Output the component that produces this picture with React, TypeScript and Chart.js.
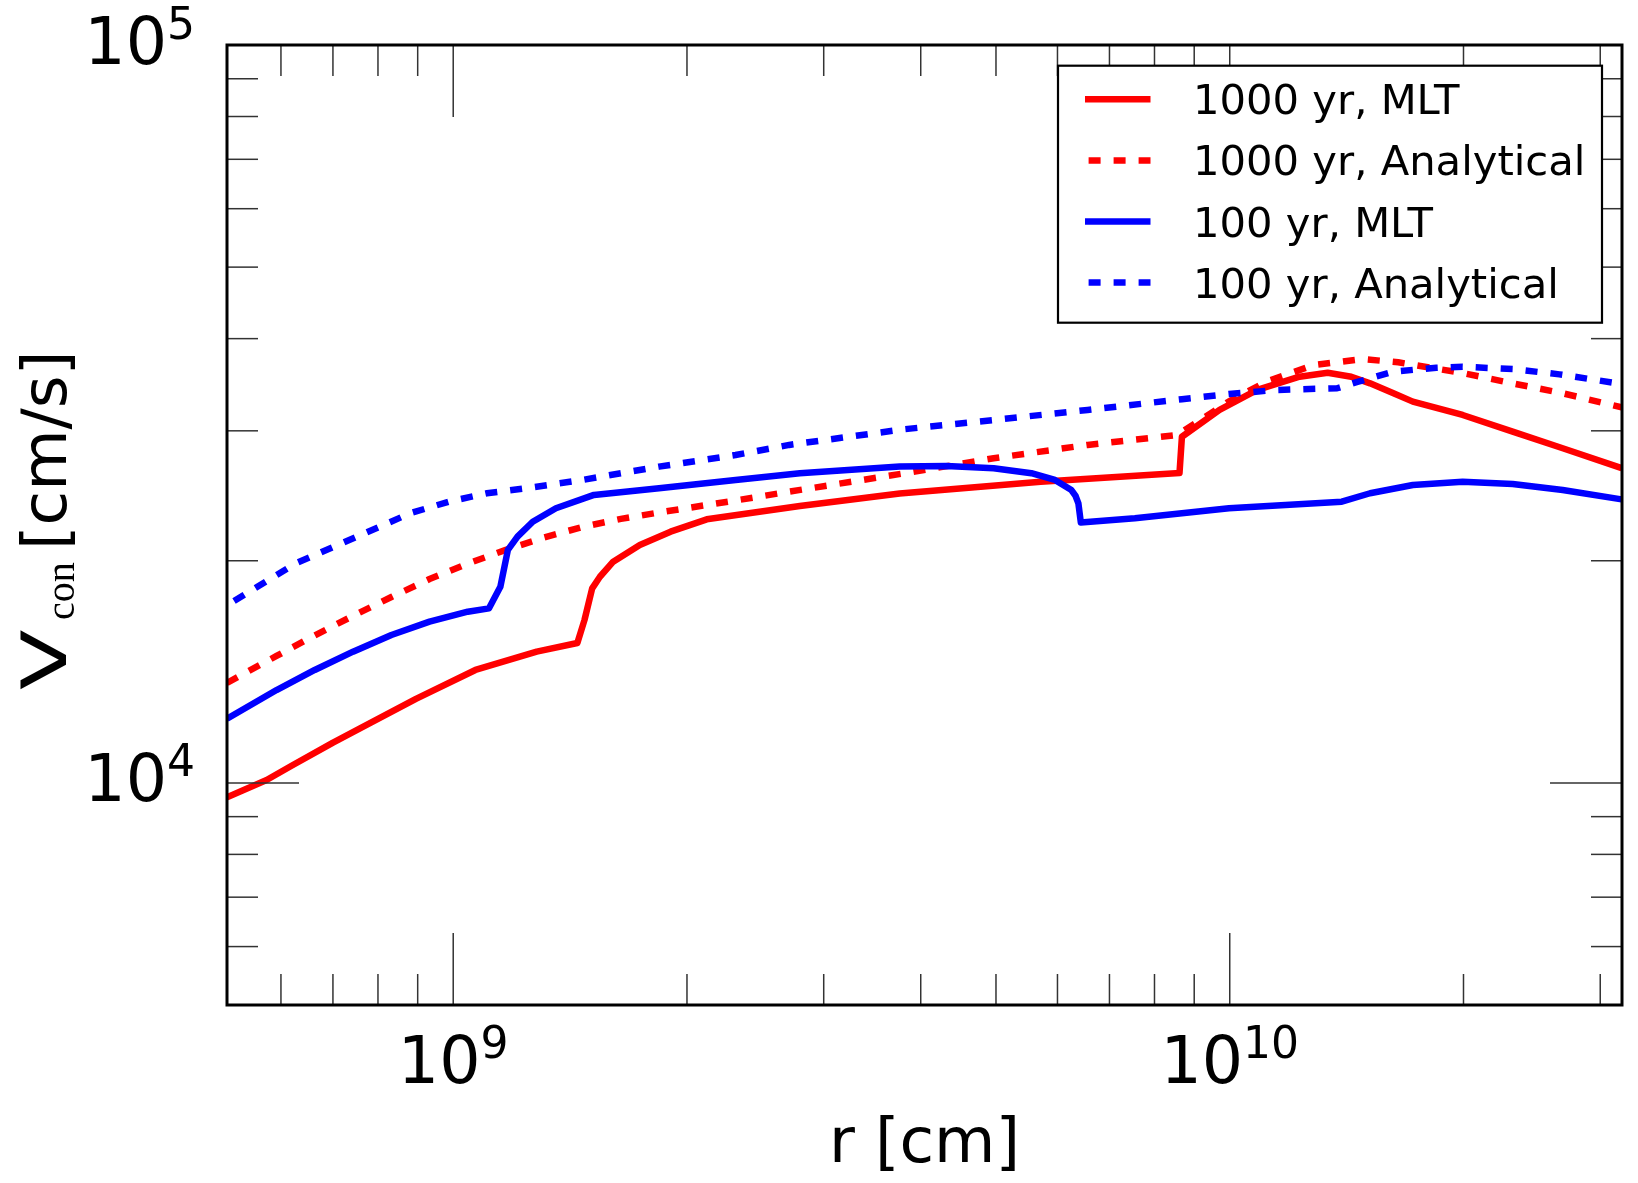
import React, { useEffect, useRef } from 'react';
import { Chart, registerables } from 'chart.js';

Chart.register(...registerables);

// Radius r [cm] and convective velocity V_con [cm/s] for each run
const r1000MLT = [5.113e8, 5.75e8, 6.2e8, 7.002e8, 7.585e8, 8.954e8, 1.068e9, 1.281e9, 1.445e9, 1.476e9, 1.51e9, 1.545e9, 1.607e9, 1.739e9, 1.905e9, 2.121e9, 2.795e9, 3.758e9, 5.708e9, 8.616e9, 8.678e9, 9.703e9, 1.085e10, 1.23e10, 1.337e10, 1.434e10, 1.516e10, 1.625e10, 1.721e10, 1.995e10, 2.314e10, 2.684e10, 3.197e10];
const v1000MLT = [9561, 10090, 10558, 11341, 11850, 12996, 14223, 15060, 15474, 16630, 18350, 19025, 19940, 21010, 21900, 22760, 23730, 24670, 25600, 26300, 29450, 32020, 34080, 35520, 35960, 35520, 34790, 33730, 32860, 31520, 29920, 28410, 26700];

const r1000Ana = [5.113e8, 5.411e8, 5.922e8, 6.632e8, 7.43e8, 8.325e8, 9.322e8, 1.044e9, 1.169e9, 1.31e9, 1.468e9, 1.644e9, 1.84e9, 2.062e9, 2.31e9, 2.708e9, 3.811e9, 4.966e9, 6.561e9, 8.556e9, 9.171e9, 9.965e9, 1.115e10, 1.282e10, 1.482e10, 1.648e10, 1.995e10, 2.314e10, 2.684e10, 3.197e10];
const v1000Ana = [13660, 14114, 14859, 15842, 16840, 17860, 18890, 19826, 20690, 21510, 22230, 22790, 23250, 23690, 24140, 24810, 26280, 27540, 28710, 29610, 31030, 32860, 34970, 36830, 37530, 37150, 35930, 34790, 33730, 32280];

const r100MLT = [5.113e8, 5.922e8, 6.632e8, 7.43e8, 8.325e8, 9.322e8, 1.044e9, 1.112e9, 1.15e9, 1.176e9, 1.21e9, 1.266e9, 1.356e9, 1.518e9, 1.841e9, 2.31e9, 2.795e9, 3.758e9, 4.32e9, 4.966e9, 5.553e9, 5.955e9, 6.253e9, 6.331e9, 6.384e9, 6.43e9, 7.548e9, 9.977e9, 1.394e10, 1.516e10, 1.721e10, 1.995e10, 2.314e10, 2.684e10, 3.197e10];
const v100MLT = [12215, 13360, 14223, 15060, 15865, 16540, 17060, 17240, 18440, 20690, 21560, 22590, 23560, 24560, 25070, 25740, 26280, 26830, 26890, 26690, 26280, 25740, 24940, 24480, 23920, 22540, 22840, 23560, 24050, 24690, 25330, 25600, 25410, 24940, 24220];

const r100Ana = [5.221e8, 5.595e8, 6.267e8, 7.021e8, 7.864e8, 8.808e8, 9.867e8, 1.105e9, 1.238e9, 1.468e9, 1.841e9, 2.31e9, 2.708e9, 3.811e9, 4.966e9, 6.561e9, 8.678e9, 9.977e9, 1.147e10, 1.375e10, 1.464e10, 1.625e10, 1.845e10, 1.995e10, 2.314e10, 2.658e10, 3.197e10];
const v100Ana = [17640, 18440, 19840, 20900, 22020, 23200, 24050, 24690, 25070, 25740, 26830, 27820, 28710, 30150, 31030, 32020, 33110, 33650, 34080, 34260, 34970, 36080, 36530, 36640, 36380, 35780, 34720];

const seriesLabels = ['1000 yr, MLT', '1000 yr, Analytical', '100 yr, MLT', '100 yr, Analytical'];
const seriesColors = ['#ff0000', '#ff0000', '#0000ff', '#0000ff'];
const seriesDashed = [false, true, false, true];
const seriesR = [r1000MLT, r1000Ana, r100MLT, r100Ana];
const seriesV = [v1000MLT, v1000Ana, v100MLT, v100Ana];

// Axis limits and ticks
const xLimits = [5.113e8, 3.2e10];
const yLimits = [5e3, 1e5];
const xMajorTicks = [1e9, 1e10];
const xMajorExps = ['9', '10'];
const xMinorTicks = [6e8, 7e8, 8e8, 9e8, 2e9, 3e9, 4e9, 5e9, 6e9, 7e9, 8e9, 9e9, 2e10, 3e10];
const yMajorTicks = [1e4, 1e5];
const yMajorExps = ['4', '5'];
const yMinorTicks = [6e3, 7e3, 8e3, 9e3, 2e4, 3e4, 4e4, 5e4, 6e4, 7e4, 8e4, 9e4];

const SANS = '"DejaVu Sans"';
const LINE_W = 6.5;
const DASH = [12, 13];

function drawPower(ctx: CanvasRenderingContext2D, base: string, exp: string, x: number, baseline: number, align: 'center' | 'right') {
  ctx.font = `65px ${SANS}`;
  const wb = ctx.measureText(base).width;
  ctx.font = `44px ${SANS}`;
  const we = ctx.measureText(exp).width;
  const total = wb + we;
  const left = align === 'center' ? x - total / 2 : x - total;
  ctx.textAlign = 'left';
  ctx.textBaseline = 'alphabetic';
  ctx.font = `65px ${SANS}`;
  ctx.fillText(base, left, baseline);
  ctx.font = `44px ${SANS}`;
  ctx.fillText(exp, left + wb, baseline - 25);
}

const decorPlugin = {
  id: 'decor',
  afterDatasetsDraw(chart: any) {
    const { ctx, chartArea: a, scales } = chart;
    const xs = scales.x;
    const ys = scales.y;
    ctx.save();
    ctx.strokeStyle = '#333';
    ctx.lineWidth = 1.5;
    const seg = (x1: number, y1: number, x2: number, y2: number) => {
      ctx.beginPath();
      ctx.moveTo(x1, y1);
      ctx.lineTo(x2, y2);
      ctx.stroke();
    };
    const xTicks = (vals: number[], len: number) => {
      for (const v of vals) {
        const px = xs.getPixelForValue(v);
        seg(px, a.bottom, px, a.bottom - len);
        seg(px, a.top, px, a.top + len);
      }
    };
    const yTicks = (vals: number[], len: number) => {
      for (const v of vals) {
        const py = ys.getPixelForValue(v);
        seg(a.left, py, a.left + len, py);
        seg(a.right, py, a.right - len, py);
      }
    };
    xTicks(xMinorTicks, 31);
    xTicks(xMajorTicks, 72);
    yTicks(yMinorTicks, 31);
    yTicks(yMajorTicks, 72);
    ctx.strokeStyle = '#000';
    ctx.lineWidth = 3;
    ctx.strokeRect(a.left, a.top, a.right - a.left, a.bottom - a.top);
    ctx.restore();
  },
  afterDraw(chart: any) {
    const { ctx, chartArea: a, scales } = chart;
    const xs = scales.x;
    const ys = scales.y;
    ctx.save();
    ctx.fillStyle = '#000';

    // tick labels
    xMajorTicks.forEach((v, i) => drawPower(ctx, '10', xMajorExps[i], xs.getPixelForValue(v), a.bottom + 78, 'center'));
    yMajorTicks.forEach((v, i) => drawPower(ctx, '10', yMajorExps[i], a.left - 32, ys.getPixelForValue(v) + 18.5, 'right'));

    // x title
    ctx.font = `63px ${SANS}`;
    ctx.textAlign = 'center';
    ctx.textBaseline = 'alphabetic';
    ctx.fillText('r [cm]', (a.left + a.right) / 2, a.bottom + 157);

    // y title, read bottom to top: wide V, serif subscript, unit
    ctx.save();
    ctx.rotate(-Math.PI / 2);
    ctx.textAlign = 'left';
    ctx.font = `63px ${SANS}`;
    ctx.save();
    ctx.translate(-690, 66);
    ctx.scale(1.4, 1);
    ctx.fillText('V', 0, 0);
    ctx.restore();
    ctx.font = `40px "Liberation Serif"`;
    ctx.fillText('con', -620, 74);
    ctx.font = `63px ${SANS}`;
    ctx.fillText('[cm/s]', -550, 66);
    ctx.restore();

    // legend
    const bx = 1058, by = 65.7, bw = 544, bh = 257;
    ctx.fillStyle = '#fff';
    ctx.fillRect(bx, by, bw, bh);
    ctx.strokeStyle = '#000';
    ctx.lineWidth = 2.2;
    ctx.strokeRect(bx, by, bw, bh);
    seriesLabels.forEach((label, i) => {
      const ry = 99.3 + i * 61.1;
      ctx.strokeStyle = seriesColors[i];
      ctx.lineWidth = LINE_W;
      ctx.lineCap = 'butt';
      ctx.setLineDash(seriesDashed[i] ? DASH : []);
      ctx.lineDashOffset = seriesDashed[i] ? -3.6 : 0;
      ctx.beginPath();
      ctx.moveTo(1085, ry);
      ctx.lineTo(1150.5, ry);
      ctx.stroke();
      ctx.setLineDash([]);
      ctx.fillStyle = '#000';
      ctx.font = `41.7px ${SANS}`;
      ctx.textAlign = 'left';
      ctx.textBaseline = 'alphabetic';
      ctx.fillText(label, 1193, ry + 15);
    });
    ctx.restore();
  },
};

export default function App() {
  const canvasRef = useRef<HTMLCanvasElement | null>(null);

  useEffect(() => {
    const canvas = canvasRef.current;
    if (!canvas) return;
    const datasets = seriesLabels.map((label, i) => ({
      label,
      data: seriesR[i].map((r, j) => ({ x: r, y: seriesV[i][j] })),
      borderColor: seriesColors[i],
      backgroundColor: seriesColors[i],
      borderWidth: LINE_W,
      borderDash: seriesDashed[i] ? DASH : [],
      borderCapStyle: 'butt' as const,
      borderJoinStyle: 'round' as const,
      pointRadius: 0,
      tension: 0,
      fill: false,
      clip: 0,
      order: 4 - i,
    }));
    const chart = new Chart(canvas, {
      type: 'line',
      data: { datasets },
      options: {
        animation: false,
        responsive: false,
        maintainAspectRatio: false,
        events: [],
        layout: { padding: { left: 227, top: 45, right: 16, bottom: 178 } },
        plugins: {
          legend: { display: false },
          tooltip: { enabled: false },
          title: { display: false },
        },
        scales: {
          x: { type: 'logarithmic', min: xLimits[0], max: xLimits[1], display: false },
          y: { type: 'logarithmic', min: yLimits[0], max: yLimits[1], display: false },
        },
      },
      plugins: [decorPlugin],
    });
    return () => chart.destroy();
  }, []);

  return (
    <canvas
      ref={canvasRef}
      width={1638}
      height={1183}
      style={{ position: 'fixed', left: 0, top: 0, width: 1638, height: 1183, background: '#fff' }}
    />
  );
}
